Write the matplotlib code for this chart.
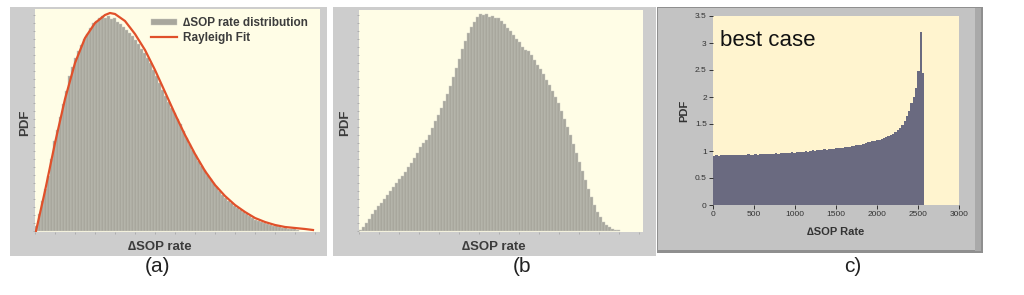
import numpy as np
import matplotlib
matplotlib.use("Agg")
import matplotlib.pyplot as plt
from matplotlib.patches import Rectangle
from matplotlib.ticker import MultipleLocator

plt.rcParams['font.family'] = ['Liberation Sans', 'DejaVu Sans']

# (a) histogram of dSOP rate, bins of width 3 (arbitrary units), plus Rayleigh fit
a_width = 3
a_hist = [5, 17, 30, 42, 55, 72, 90, 101, 114, 127, 140, 155, 164, 173, 180, 186,
          192, 197, 203, 208, 210, 213, 215, 213, 215, 212, 213, 209, 207, 204, 201,
          198, 195, 191, 187, 182, 178, 173, 168, 161, 155, 148, 141, 135, 129, 123,
          118, 112, 107, 100, 93, 87, 81, 76, 70, 65, 61, 56, 52, 48, 44, 40, 36, 33,
          30, 28, 25, 23, 21, 19, 17, 15, 13, 11, 10, 9, 8, 7, 6, 5, 5, 4, 3, 3, 2,
          2, 2, 1]
fit_x = [1, 10, 20, 30, 40, 50, 60, 70, 75, 80, 90, 100, 110, 120, 130, 140, 150,
         160, 170, 180, 190, 200, 210, 220, 230, 240, 250, 260, 270, 278]
fit_y = [0, 40, 88, 132, 168, 193, 208, 216, 218, 217, 210, 197, 181, 161, 139, 117,
         96, 77, 60, 46, 35, 26, 19, 13, 9, 6, 4, 3, 2, 1]

# (b) histogram, same bin width
b_width = 3
b_hist = [1, 4, 8, 12, 17, 21, 25, 28, 32, 36, 40, 44, 48, 52, 55, 59, 64, 68, 73,
          78, 84, 88, 91, 96, 103, 110, 116, 123, 130, 137, 145, 154, 163, 172, 182,
          190, 198, 204, 209, 214, 217, 216, 217, 214, 215, 213, 213, 210, 207, 203,
          200, 196, 192, 189, 184, 181, 180, 176, 171, 166, 162, 157, 151, 146, 140,
          134, 128, 120, 112, 104, 96, 87, 78, 69, 60, 51, 42, 34, 26, 19, 14, 9, 6,
          4, 2, 1, 1]

# (c) best case histogram, bins of width 28 in dSOP rate
c_width = 28
c_pdf = [0.91, 0.92, 0.91, 0.92, 0.92, 0.92, 0.93, 0.92, 0.93, 0.92, 0.93, 0.93, 0.92,
         0.93, 0.93, 0.94, 0.93, 0.93,
         0.94, 0.93, 0.94, 0.94, 0.94, 0.95, 0.94, 0.95, 0.95, 0.96, 0.95, 0.96, 0.97,
         0.96, 0.96, 0.97, 0.98, 0.97,
         0.98, 0.99, 0.98, 0.99, 1.00, 0.99, 1.00, 1.01, 1.00, 1.01, 1.02, 1.02, 1.03,
         1.02, 1.03, 1.04, 1.04, 1.05,
         1.05, 1.06, 1.06, 1.07, 1.08, 1.08, 1.09, 1.10, 1.11, 1.11, 1.12, 1.13, 1.14, 1.16,
         1.17, 1.18, 1.19, 1.20, 1.21, 1.22, 1.24, 1.26, 1.28, 1.30, 1.32, 1.35,
         1.39, 1.43, 1.49, 1.56, 1.64, 1.74, 1.88, 2.00, 2.16, 2.49, 3.21, 2.44]
c_xticks = [0, 500, 1000, 1500, 2000, 2500, 3000]
c_yticks = [0, 0.5, 1, 1.5, 2, 2.5, 3, 3.5]

W, H = 1024, 295
fig = plt.figure(figsize=(W / 100, H / 100), dpi=100)
fig.patch.set_facecolor('white')


def px_rect(x0, y0, x1, y1):
    return [x0 / W, 1 - y1 / H, (x1 - x0) / W, (y1 - y0) / H]


def frame(x0, y0, x1, y1, color, **kw):
    r = Rectangle((x0 / W, 1 - y1 / H), (x1 - x0) / W, (y1 - y0) / H,
                  transform=fig.transFigure, facecolor=color, edgecolor='none', **kw)
    fig.add_artist(r)


gray_bar = '#a8a79d'
cream = '#fffde6'
txt = '#3c3c3c'

# frames (a) and (b)
frame(10, 7, 327, 256, '#cdcdcd', zorder=0)
frame(333, 7, 656, 256, '#cdcdcd', zorder=0)
# frame (c) with 3D look
frame(657, 7, 983, 253, '#8f8f8f', zorder=0)
frame(658, 8, 975, 250, '#c3c3c3', zorder=0)
frame(975, 8, 981, 251, '#a9a9a9', zorder=0)


def hist_axes(rect, values, width, xmax, ymax):
    ax = fig.add_axes(rect)
    ax.set_facecolor(cream)
    x = np.arange(len(values)) * width + width / 2
    bars = ax.bar(x, values, width=width, color=gray_bar, edgecolor='#cbcbc2',
                  linewidth=0.3, label='\u2206SOP rate distribution')
    ax.set_xlim(0, xmax)
    ax.set_ylim(-1, ymax)
    for s in ax.spines.values():
        s.set_visible(False)
    ax.xaxis.set_major_locator(MultipleLocator(20))
    ax.yaxis.set_major_locator(MultipleLocator(8))
    ax.tick_params(length=1.5, width=0.5, color='#a0a0a0', labelbottom=False,
                   labelleft=False)
    return ax, bars

# panel (a)
ax_a, bars_a = hist_axes(px_rect(35, 9, 320, 232), a_hist, a_width, 285, 222)
fit_line, = ax_a.plot(fit_x, fit_y, color='#e0502a', lw=1.6, label='Rayleigh Fit')
leg = ax_a.legend(handles=[bars_a, fit_line], loc='upper left',
                  bbox_to_anchor=(0.39, 0.985), frameon=False,
                  prop={'size': 8.5, 'weight': 'bold'}, handlelength=2.2,
                  handleheight=0.5, labelspacing=0.25, handletextpad=0.5,
                  borderaxespad=0)
for t in leg.get_texts():
    t.set_color(txt)
fig.text(160 / W, 1 - 247 / H, '\u2206SOP rate', ha='center', va='center',
         fontsize=9.5, fontweight='bold', color=txt)
fig.text(25 / W, 1 - 123 / H, 'PDF', ha='center', va='center', rotation=90,
         fontsize=9.5, fontweight='bold', color=txt)
fig.text(158 / W, 1 - 267 / H, '(a)', ha='center', va='center', fontsize=15,
         color='#222222')

# panel (b)
ax_b, _ = hist_axes(px_rect(359, 10, 643, 232), b_hist, b_width, 284, 221)
fig.text(494 / W, 1 - 247 / H, '\u2206SOP rate', ha='center', va='center',
         fontsize=9.5, fontweight='bold', color=txt)
fig.text(345 / W, 1 - 123 / H, 'PDF', ha='center', va='center', rotation=90,
         fontsize=9.5, fontweight='bold', color=txt)
fig.text(522 / W, 1 - 267 / H, '(b', ha='center', va='center', fontsize=15,
         color='#222222')

# panel (c)
ax_c = fig.add_axes(px_rect(713, 16, 959, 205))
ax_c.set_facecolor('#fff4cf')
cx = np.arange(len(c_pdf)) * c_width + c_width / 2
ax_c.bar(cx, c_pdf, width=c_width, color='#6a6a80', edgecolor='none')
ax_c.set_xlim(0, 3000)
ax_c.set_ylim(0, 3.5)
ax_c.set_xticks(c_xticks)
ax_c.set_yticks(c_yticks)
ax_c.set_yticklabels([f'{v:g}' for v in c_yticks])
for s in ax_c.spines.values():
    s.set_visible(False)
ax_c.tick_params(length=3, width=0.7, color='#333333', labelsize=6,
                 labelcolor='#333333', pad=1.5)
ax_c.set_xlabel('\u2206SOP Rate', fontsize=8, fontweight='bold', color='#333333',
                labelpad=6)
ax_c.set_ylabel('PDF', fontsize=8, fontweight='bold', color='#333333', labelpad=4)
ax_c.text(0.03, 0.87, 'best case', transform=ax_c.transAxes, fontsize=16,
          color='#111111', va='center')
fig.text(853 / W, 1 - 266 / H, 'c)', ha='center', va='center', fontsize=15,
         color='#222222')

fig.savefig('out.png', dpi=100, facecolor='white')
